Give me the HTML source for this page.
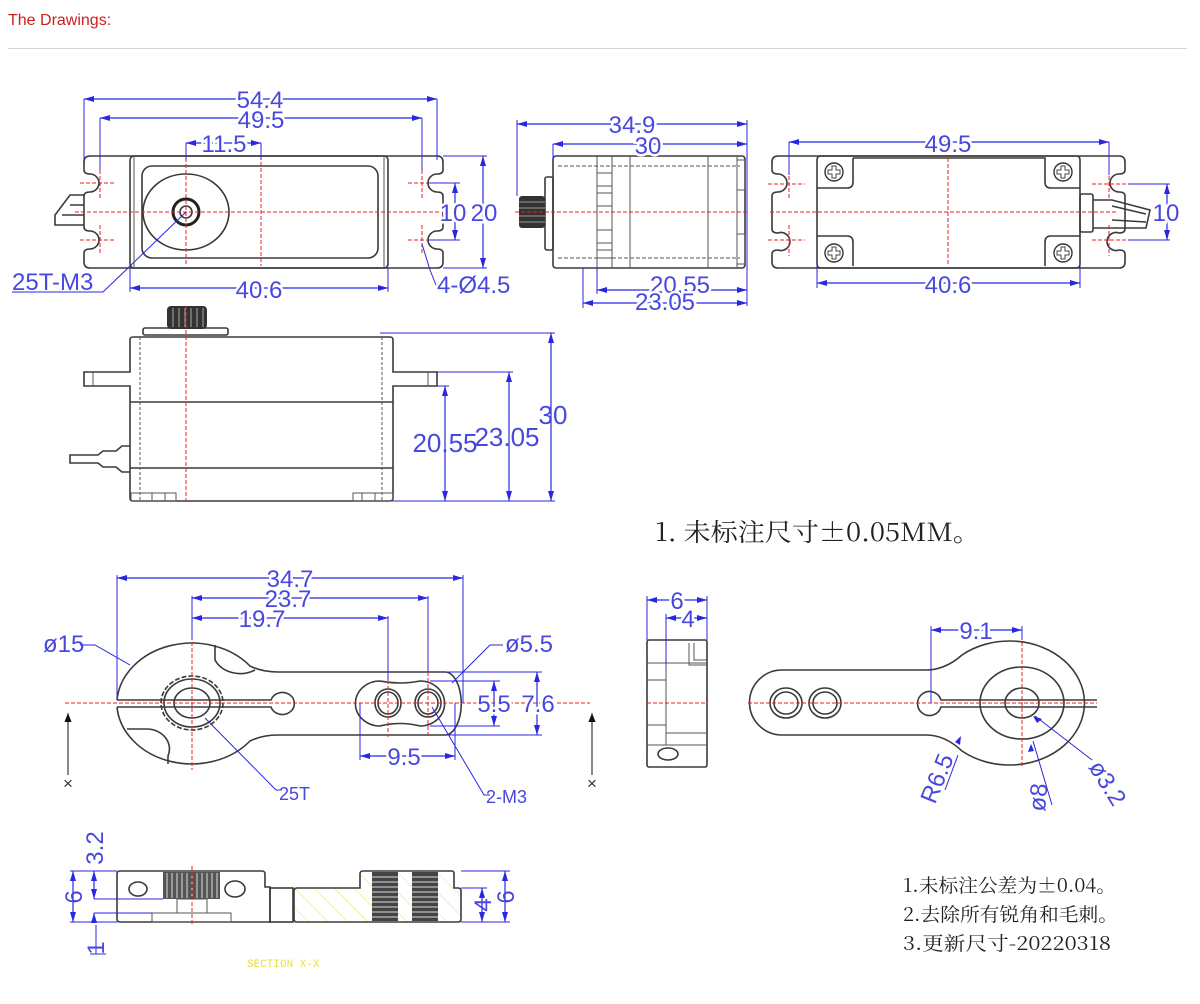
<!DOCTYPE html>
<html><head><meta charset="utf-8"><style>
html,body{margin:0;padding:0;background:#fff;width:1200px;height:1004px;overflow:hidden}
svg{display:block}
.o{fill:none;stroke:#3a3a3a;stroke-width:1.6}
.t{fill:none;stroke:#555;stroke-width:1}
.c{fill:none;stroke:#e82020;stroke-width:1;stroke-dasharray:4 2}
.d{fill:none;stroke:#2828e0;stroke-width:1.2}
.dt{font-family:"Liberation Sans",sans-serif;font-size:24px;fill:#4848e0;paint-order:stroke;stroke:#fff;stroke-width:5px}
.ld{fill:none;stroke:#2828e0;stroke-width:1}
</style></head><body>
<svg width="1200" height="1004" viewBox="0 0 1200 1004" xmlns="http://www.w3.org/2000/svg">
<defs>
<marker id="a" viewBox="0 0 10 6" refX="10" refY="3" markerWidth="10" markerHeight="6" orient="auto-start-reverse" markerUnits="userSpaceOnUse"><path d="M0,0L10,3L0,6z" fill="#2828e0"/></marker>
<marker id="k" viewBox="0 0 10 8" refX="10" refY="4" markerWidth="9" markerHeight="14" orient="auto" markerUnits="userSpaceOnUse"><path d="M0,0L10,4L0,8z" fill="#111"/></marker>
<pattern id="h" width="14" height="14" patternUnits="userSpaceOnUse" patternTransform="rotate(-45)"><line x1="0" y1="0" x2="0" y2="14" stroke="#e8e060" stroke-width="1"/></pattern>
</defs>
<text x="8" y="25" font-family="Liberation Sans,sans-serif" font-size="16" fill="#cc1f1f">The Drawings:</text>
<line x1="8" y1="48.5" x2="1187" y2="48.5" stroke="#d4d4d4" stroke-width="1"/>

<!-- ===== View A top-left ===== -->
<g>
<path class="o" d="M90,156 H437 Q443,156 443,162 V170 Q443,174 437,174 A9,9 0 1 0 437,192 Q443,192 443,196 V227 Q443,231 437,231 A9,9 0 1 0 437,249 Q443,249 443,253 V262 Q443,268 437,268 H90 Q84,268 84,262 V253 Q84,249 90,249 A9,9 0 1 0 90,231 Q84,231 84,227 V196 Q84,192 90,192 A9,9 0 1 0 90,174 Q84,174 84,170 V162 Q84,156 90,156 Z"/>
<rect class="o" x="130" y="156" width="258" height="112" rx="4"/>
<line class="t" x1="134" y1="156" x2="134" y2="268"/><line class="t" x1="384" y1="156" x2="384" y2="268"/>
<rect class="o" x="142" y="166" width="236" height="92" rx="10"/>
<ellipse class="o" cx="186" cy="212" rx="43" ry="38"/>
<circle cx="186" cy="212" r="13" fill="none" stroke="#222" stroke-width="3"/>
<circle class="o" cx="186" cy="212" r="6"/>
<path class="o" d="M84,195 H70 L55,215 V225 H84 M70,205 H84 M62,215 H84"/>
<g class="c"><line x1="75" y1="212" x2="447" y2="212"/><line x1="186" y1="158" x2="186" y2="266"/><line x1="261" y1="150" x2="261" y2="266"/>
<line x1="100" y1="170" x2="100" y2="200"/><line x1="80" y1="183" x2="115" y2="183"/><line x1="100" y1="225" x2="100" y2="255"/><line x1="80" y1="240" x2="115" y2="240"/>
<line x1="422" y1="170" x2="422" y2="200"/><line x1="408" y1="183" x2="445" y2="183"/><line x1="422" y1="225" x2="422" y2="255"/><line x1="408" y1="240" x2="445" y2="240"/></g>
<g class="ld"><line x1="84" y1="99" x2="84" y2="160"/><line x1="437" y1="99" x2="437" y2="160"/><line x1="100" y1="118" x2="100" y2="170"/><line x1="422" y1="118" x2="422" y2="170"/>
<line x1="186" y1="143" x2="186" y2="160"/><line x1="261" y1="143" x2="261" y2="160"/>
<line x1="130" y1="268" x2="130" y2="292"/><line x1="388" y1="268" x2="388" y2="292"/>
<line x1="443" y1="156" x2="487" y2="156"/><line x1="443" y1="268" x2="487" y2="268"/><line x1="428" y1="183" x2="460" y2="183"/><line x1="428" y1="240" x2="460" y2="240"/>
<polyline points="186,212 128,268 103,292 12,292"/><polyline points="422,244 430,270 436,285"/></g>
<g class="d" marker-start="url(#a)" marker-end="url(#a)"><line x1="84" y1="99" x2="437" y2="99"/><line x1="100" y1="118" x2="422" y2="118"/><line x1="186" y1="143" x2="261" y2="143"/><line x1="130" y1="288" x2="388" y2="288"/><line x1="483" y1="156" x2="483" y2="268"/><line x1="455" y1="183" x2="455" y2="240"/></g>
<text class="dt" x="260" y="108" text-anchor="middle">54.4</text>
<text class="dt" x="261" y="128" text-anchor="middle">49.5</text>
<text class="dt" x="224" y="152" text-anchor="middle">11.5</text>
<text class="dt" x="259" y="298" text-anchor="middle">40.6</text>
<text class="dt" x="453" y="221" text-anchor="middle">10</text>
<text class="dt" x="484" y="221" text-anchor="middle">20</text>
<text class="dt" x="12" y="290" style="stroke-width:0">25T-M3</text>
<text class="dt" x="437" y="293" style="stroke-width:0">4-Ø4.5</text>
</g>

<!-- ===== View B side ===== -->
<g>
<rect class="o" x="553" y="156" width="192" height="112" rx="3"/>
<rect class="o" x="545" y="177" width="8" height="73" rx="2"/>
<rect x="519" y="196" width="26" height="32" rx="3" fill="#333"/>
<g stroke="#999" stroke-width="1"><line x1="519" y1="202" x2="545" y2="202"/><line x1="519" y1="208" x2="545" y2="208"/><line x1="519" y1="216" x2="545" y2="216"/><line x1="519" y1="222" x2="545" y2="222"/></g>
<g class="t"><line x1="597" y1="156" x2="597" y2="268"/><line x1="612" y1="156" x2="612" y2="268"/><line x1="630" y1="156" x2="630" y2="268"/><line x1="708" y1="156" x2="708" y2="268"/><line x1="737" y1="156" x2="737" y2="268"/>
<line x1="558" y1="166" x2="740" y2="166" stroke-dasharray="4 2"/><line x1="558" y1="258" x2="740" y2="258" stroke-dasharray="4 2"/>
<rect x="597" y="173" width="15" height="13"/><rect x="597" y="193" width="15" height="13"/><rect x="597" y="230" width="15" height="13"/><rect x="597" y="250" width="15" height="8"/>
<rect x="737" y="160" width="8" height="30"/><rect x="737" y="234" width="8" height="30"/></g>
<line class="c" x1="515" y1="212" x2="747" y2="212"/>
<g class="ld"><line x1="517" y1="120" x2="517" y2="196"/><line x1="553" y1="144" x2="553" y2="160"/><line x1="747" y1="120" x2="747" y2="306"/><line x1="597" y1="268" x2="597" y2="294"/><line x1="583" y1="268" x2="583" y2="308"/></g>
<g class="d" marker-start="url(#a)" marker-end="url(#a)"><line x1="517" y1="124" x2="747" y2="124"/><line x1="553" y1="144" x2="747" y2="144"/><line x1="597" y1="290" x2="747" y2="290"/><line x1="583" y1="303" x2="747" y2="303"/></g>
<text class="dt" x="632" y="133" text-anchor="middle">34.9</text>
<text class="dt" x="648" y="154" text-anchor="middle">30</text>
<text class="dt" x="680" y="293" text-anchor="middle">20.55</text>
<text class="dt" x="665" y="310" text-anchor="middle">23.05</text>
</g>

<!-- ===== View C right top ===== -->
<g>
<path class="o" d="M778,156 H1119 Q1125,156 1125,162 V170 Q1125,174 1119,174 A9,9 0 1 0 1119,192 Q1125,192 1125,196 V229 Q1125,233 1119,233 A9,9 0 1 0 1119,250 Q1125,250 1125,254 V262 Q1125,268 1119,268 H778 Q772,268 772,262 V254 Q772,250 778,250 A9,9 0 1 0 778,233 Q772,233 772,229 V196 Q772,192 778,192 A9,9 0 1 0 778,174 Q772,174 772,170 V162 Q772,156 778,156 Z"/>
<path class="o" d="M821,156 H1076 Q1080,156 1080,160 V264 Q1080,268 1076,268 H821 Q817,268 817,264 V160 Q817,156 821,156 Z"/>
<path class="o" d="M853,158 H1045 V182 Q1045,188 1051,188 H1080 M1080,236 H1051 Q1045,236 1045,242 V266 M853,266 V242 Q853,236 847,236 H817 M817,188 H847 Q853,188 853,182 V158"/>
<g fill="none" stroke="#333" stroke-width="1.4"><circle cx="834" cy="172" r="9"/><circle cx="1063" cy="172" r="9"/><circle cx="834" cy="253" r="9"/><circle cx="1063" cy="253" r="9"/></g>
<g fill="none" stroke="#444" stroke-width="1"><path d="M832,166h4v4h4v4h-4v4h-4v-4h-4v-4h4z"/><path d="M1061,166h4v4h4v4h-4v4h-4v-4h-4v-4h4z"/><path d="M832,247h4v4h4v4h-4v4h-4v-4h-4v-4h4z"/><path d="M1061,247h4v4h4v4h-4v4h-4v-4h-4v-4h4z"/></g>
<rect class="o" x="1080" y="194" width="13" height="38" rx="2"/>
<path class="o" d="M1093,200 H1112 L1150,210 L1146,228 H1093 M1112,206 L1146,214 M1112,220 L1146,222"/>
<g class="c"><line x1="770" y1="212" x2="1118" y2="212"/><line x1="948" y1="158" x2="948" y2="266"/>
<line x1="789" y1="170" x2="789" y2="200"/><line x1="768" y1="184" x2="805" y2="184"/><line x1="789" y1="225" x2="789" y2="256"/><line x1="768" y1="240" x2="805" y2="240"/>
<line x1="1109" y1="170" x2="1109" y2="200"/><line x1="1092" y1="184" x2="1128" y2="184"/><line x1="1109" y1="225" x2="1109" y2="256"/><line x1="1092" y1="240" x2="1128" y2="240"/></g>
<g class="ld"><line x1="789" y1="142" x2="789" y2="175"/><line x1="1109" y1="142" x2="1109" y2="175"/><line x1="817" y1="264" x2="817" y2="288"/><line x1="1080" y1="264" x2="1080" y2="288"/><line x1="1128" y1="184" x2="1170" y2="184"/><line x1="1128" y1="240" x2="1170" y2="240"/></g>
<g class="d" marker-start="url(#a)" marker-end="url(#a)"><line x1="789" y1="142" x2="1109" y2="142"/><line x1="817" y1="283" x2="1080" y2="283"/><line x1="1167" y1="184" x2="1167" y2="240"/></g>
<text class="dt" x="948" y="152" text-anchor="middle">49.5</text>
<text class="dt" x="948" y="293" text-anchor="middle">40.6</text>
<text class="dt" x="1166" y="221" text-anchor="middle">10</text>
</g>

<!-- ===== View D elevation ===== -->
<g>
<rect class="o" x="143" y="328" width="85" height="7" rx="2"/>
<rect x="167" y="306" width="40" height="23" rx="4" fill="#333"/>
<g stroke="#aaa" stroke-width="1"><line x1="173" y1="308" x2="173" y2="327"/><line x1="179" y1="308" x2="179" y2="327"/><line x1="185" y1="308" x2="185" y2="327"/><line x1="191" y1="308" x2="191" y2="327"/><line x1="197" y1="308" x2="197" y2="327"/><line x1="203" y1="308" x2="203" y2="327"/></g>
<path class="o" d="M133,337 H390 Q393,337 393,340 V372 H437 V386 H393 V498 Q393,501 390,501 H133 Q130,501 130,498 V386 H84 V372 H130 V340 Q130,337 133,337 Z"/>
<line class="o" x1="130" y1="402" x2="393" y2="402"/><line class="o" x1="130" y1="468" x2="393" y2="468"/>
<line class="t" x1="428" y1="372" x2="428" y2="386"/><line class="t" x1="93" y1="372" x2="93" y2="386"/>
<line class="t" x1="140" y1="337" x2="140" y2="501" stroke-dasharray="3 2"/><line class="t" x1="382" y1="337" x2="382" y2="501" stroke-dasharray="3 2"/>
<g class="t"><rect x="131" y="493" width="45" height="8"/><line x1="152" y1="493" x2="152" y2="501"/><line x1="165" y1="493" x2="165" y2="501"/><rect x="353" y="493" width="40" height="8"/><line x1="362" y1="493" x2="362" y2="501"/><line x1="375" y1="493" x2="375" y2="501"/></g>
<path class="o" d="M130,446 H122 L116,451 H103 L98,455 H70 V463 H98 L103,467 H116 L122,472 H130"/>
<line class="c" x1="186" y1="306" x2="186" y2="503"/>
<g class="ld"><line x1="380" y1="333" x2="555" y2="333"/><line x1="437" y1="372" x2="513" y2="372"/><line x1="437" y1="386" x2="449" y2="386"/><line x1="393" y1="501" x2="555" y2="501"/></g>
<g class="d" marker-start="url(#a)" marker-end="url(#a)"><line x1="551" y1="333" x2="551" y2="501"/><line x1="509" y1="372" x2="509" y2="501"/><line x1="445" y1="386" x2="445" y2="501"/></g>
<text class="dt" x="445" y="452" text-anchor="middle" style="font-size:26px;stroke-width:0">20.55</text>
<text class="dt" x="507" y="446" text-anchor="middle" style="font-size:26px;stroke-width:0">23.05</text>
<text class="dt" x="553" y="424" text-anchor="middle" style="font-size:26px;stroke-width:0">30</text>
</g>

<text x="655" y="541" font-family="'Noto Serif CJK SC',serif" font-size="25" fill="#222" textLength="325" lengthAdjust="spacingAndGlyphs">1.  未标注尺寸±0.05MM。</text>

<!-- ===== View E horn top ===== -->
<g>
<path class="o" d="M117,700 A75,62 0 0 1 250,666 Q262,672 278,672 H445 A16,31 0 0 1 445,735 H278 Q262,735 250,741 A75,62 0 0 1 117,707"/>
<path class="o" d="M117,700 H271 A12,11 0 1 1 271,707 H117"/>
<path class="o" d="M215,645 V660 A28,24 0 0 0 255,670"/><path class="o" d="M127,729 H148 A23,20 0 0 1 168,756 V764"/>
<ellipse class="o" cx="192" cy="703" rx="31" ry="27" stroke-dasharray="5 2"/>
<ellipse class="o" cx="192" cy="703" rx="28" ry="24"/>
<ellipse class="o" cx="192" cy="703" rx="18" ry="15"/>
<path class="o" d="M380,681 Q400,685 420,681 A24,22 0 1 1 420,726 Q400,721 380,726 A24,22 0 1 1 380,681 Z"/>
<ellipse class="o" cx="388" cy="703" rx="13" ry="14"/><ellipse class="o" cx="388" cy="703" rx="10" ry="11"/>
<ellipse class="o" cx="428" cy="703" rx="13" ry="14"/><ellipse class="o" cx="428" cy="703" rx="10" ry="11"/>
<g class="c"><line x1="65" y1="703" x2="590" y2="703"/><line x1="192" y1="636" x2="192" y2="770"/><line x1="388" y1="680" x2="388" y2="737"/><line x1="428" y1="672" x2="428" y2="737"/></g>
<g class="ld"><line x1="117" y1="575" x2="117" y2="700"/><line x1="463" y1="575" x2="463" y2="703"/><line x1="192" y1="596" x2="192" y2="640"/><line x1="428" y1="596" x2="428" y2="672"/><line x1="388" y1="616" x2="388" y2="680"/>
<line x1="360" y1="703" x2="360" y2="760"/><line x1="455" y1="703" x2="455" y2="760"/>
<line x1="430" y1="681" x2="500" y2="681"/><line x1="430" y1="726" x2="500" y2="726"/><line x1="445" y1="672" x2="542" y2="672"/><line x1="445" y1="735" x2="542" y2="735"/>
<polyline points="80,645 95,645 130,665"/><polyline points="503,645 490,645 452,683"/><polyline points="205,718 276,790 282,790"/><polyline points="432,707 484,795 490,795"/></g>
<g class="d" marker-start="url(#a)" marker-end="url(#a)"><line x1="117" y1="578" x2="463" y2="578"/><line x1="192" y1="598" x2="428" y2="598"/><line x1="192" y1="618" x2="388" y2="618"/><line x1="360" y1="756" x2="455" y2="756"/><line x1="494" y1="681" x2="494" y2="726"/><line x1="537" y1="672" x2="537" y2="735"/></g>
<text class="dt" x="290" y="587" text-anchor="middle">34.7</text>
<text class="dt" x="288" y="607" text-anchor="middle">23.7</text>
<text class="dt" x="262" y="627" text-anchor="middle">19.7</text>
<text class="dt" x="404" y="765" text-anchor="middle">9.5</text>
<text class="dt" x="494" y="712" text-anchor="middle">5.5</text>
<text class="dt" x="538" y="712" text-anchor="middle">7.6</text>
<text class="dt" x="43" y="652" style="stroke-width:0">ø15</text>
<text class="dt" x="505" y="652" style="stroke-width:0">ø5.5</text>
<text class="dt" x="279" y="800" style="stroke-width:0;font-size:18px">25T</text>
<text class="dt" x="486" y="803" style="stroke-width:0;font-size:18px">2-M3</text>
<line x1="68" y1="775" x2="68" y2="713" stroke="#111" marker-end="url(#k)"/>
<text x="68" y="789" font-family="Liberation Sans,sans-serif" font-size="17" fill="#333" text-anchor="middle">×</text>
<line x1="592" y1="775" x2="592" y2="713" stroke="#111" marker-end="url(#k)"/>
<text x="592" y="789" font-family="Liberation Sans,sans-serif" font-size="17" fill="#333" text-anchor="middle">×</text>
</g>

<!-- ===== View F horn side ===== -->
<g>
<rect class="o" x="647" y="640" width="60" height="127" rx="2"/>
<g class="t"><line x1="666" y1="665" x2="666" y2="745"/><polyline points="689,643 689,665 707,665"/><polyline points="694,643 694,660 707,660"/>
<line x1="647" y1="663" x2="707" y2="663"/><line x1="647" y1="680" x2="666" y2="680"/><line x1="647" y1="725" x2="666" y2="725"/><line x1="647" y1="745" x2="707" y2="745"/><line x1="666" y1="733" x2="707" y2="733"/></g>
<ellipse class="o" cx="668" cy="754" rx="10" ry="6"/>
<line class="c" x1="647" y1="703" x2="707" y2="703"/>
<g class="ld"><line x1="647" y1="596" x2="647" y2="640"/><line x1="707" y1="596" x2="707" y2="640"/><line x1="666" y1="614" x2="666" y2="665"/></g>
<g class="d" marker-start="url(#a)" marker-end="url(#a)"><line x1="647" y1="600" x2="707" y2="600"/><line x1="666" y1="618" x2="707" y2="618"/></g>
<text class="dt" x="677" y="609" text-anchor="middle">6</text>
<text class="dt" x="688" y="627" text-anchor="middle">4</text>
</g>

<!-- ===== View G horn bottom ===== -->
<g>
<path class="o" d="M782,670 H926 Q945,670 962,655 A75,62 0 1 1 962,751 Q945,735 926,735 H782 A32,32 0 0 1 782,670 Z"/>
<path class="o" d="M1097,700 H941 A12,12 0 1 0 941,707 H1097"/>
<ellipse class="o" cx="1022" cy="703" rx="42" ry="36"/>
<ellipse class="o" cx="1022" cy="703" rx="17" ry="15"/>
<ellipse class="o" cx="786" cy="703" rx="16" ry="15"/><ellipse class="o" cx="786" cy="703" rx="12" ry="11"/>
<ellipse class="o" cx="825" cy="703" rx="16" ry="15"/><ellipse class="o" cx="825" cy="703" rx="12" ry="11"/>
<g class="c"><line x1="748" y1="703" x2="1097" y2="703"/><line x1="1022" y1="636" x2="1022" y2="767"/></g>
<g class="ld"><line x1="931" y1="626" x2="931" y2="703"/><line x1="1022" y1="626" x2="1022" y2="640"/>
<line x1="958" y1="755" x2="945" y2="790"/><line x1="1033" y1="741" x2="1052" y2="805"/><line x1="1035" y1="716" x2="1092" y2="760"/></g>
<g class="d" marker-start="url(#a)" marker-end="url(#a)"><line x1="931" y1="630" x2="1022" y2="630"/></g>
<g fill="#2828e0"><path d="M955,742l6,-6l-1,9z"/><path d="M1031,744l-3,8l6,-1z"/><path d="M1033,716l9,3l-5,4z"/></g>
<text class="dt" x="976" y="639" text-anchor="middle">9.1</text>
<text class="dt" transform="translate(935,805) rotate(-68)" style="stroke-width:0">R6.5</text>
<text class="dt" transform="translate(1045,812) rotate(-85)" style="stroke-width:0">ø8</text>
<text class="dt" transform="translate(1088,767) rotate(58)" style="stroke-width:0">ø3.2</text>
</g>

<!-- ===== View H section ===== -->
<g>
<path class="o" d="M120,871 H262 Q265,871 265,874 V887 H270 V922 H120 Q117,922 117,919 V874 Q117,871 120,871 Z"/>
<rect x="163" y="872" width="57" height="27" fill="#555"/>
<g stroke="#ddd" stroke-width="1"><line x1="167" y1="873" x2="167" y2="898"/><line x1="172" y1="873" x2="172" y2="898"/><line x1="177" y1="873" x2="177" y2="898"/><line x1="182" y1="873" x2="182" y2="898"/><line x1="187" y1="873" x2="187" y2="898"/><line x1="192" y1="873" x2="192" y2="898"/><line x1="197" y1="873" x2="197" y2="898"/><line x1="202" y1="873" x2="202" y2="898"/><line x1="207" y1="873" x2="207" y2="898"/><line x1="212" y1="873" x2="212" y2="898"/><line x1="217" y1="873" x2="217" y2="898"/></g>
<g class="t"><rect x="177" y="899" width="30" height="14"/><rect x="152" y="913" width="79" height="9"/></g>
<ellipse class="o" cx="138" cy="889" rx="9" ry="7"/><ellipse class="o" cx="235" cy="889" rx="10" ry="8"/>
<rect class="o" x="270" y="888" width="23" height="34"/>
<path d="M297,888 H360 V874 Q360,871 363,871 H452 Q454,871 454,874 V888 H458 Q461,888 461,891 V919 Q461,922 458,922 H297 Q294,922 294,919 V891 Q294,888 297,888 Z" fill="url(#h)" stroke="#3a3a3a" stroke-width="1.6"/>
<g fill="#444"><rect x="372" y="872" width="26" height="49"/><rect x="412" y="872" width="26" height="49"/></g>
<g stroke="#ddd" stroke-width="1"><line x1="372" y1="877" x2="398" y2="877"/><line x1="372" y1="882" x2="398" y2="882"/><line x1="372" y1="887" x2="398" y2="887"/><line x1="372" y1="892" x2="398" y2="892"/><line x1="372" y1="897" x2="398" y2="897"/><line x1="372" y1="902" x2="398" y2="902"/><line x1="372" y1="907" x2="398" y2="907"/><line x1="372" y1="912" x2="398" y2="912"/><line x1="372" y1="917" x2="398" y2="917"/>
<line x1="412" y1="877" x2="438" y2="877"/><line x1="412" y1="882" x2="438" y2="882"/><line x1="412" y1="887" x2="438" y2="887"/><line x1="412" y1="892" x2="438" y2="892"/><line x1="412" y1="897" x2="438" y2="897"/><line x1="412" y1="902" x2="438" y2="902"/><line x1="412" y1="907" x2="438" y2="907"/><line x1="412" y1="912" x2="438" y2="912"/><line x1="412" y1="917" x2="438" y2="917"/></g>
<line class="c" x1="192" y1="866" x2="192" y2="926"/>
<g class="ld"><line x1="70" y1="871" x2="117" y2="871"/><line x1="70" y1="922" x2="117" y2="922"/><line x1="94" y1="899" x2="163" y2="899"/><line x1="94" y1="913" x2="152" y2="913"/>
<line x1="461" y1="871" x2="510" y2="871"/><line x1="461" y1="888" x2="487" y2="888"/><line x1="461" y1="922" x2="510" y2="922"/>
<line x1="96" y1="925" x2="96" y2="954"/><line x1="90" y1="954" x2="106" y2="954"/></g>
<g class="d" marker-start="url(#a)" marker-end="url(#a)"><line x1="73" y1="871" x2="73" y2="922"/><line x1="94" y1="871" x2="94" y2="899"/><line x1="482" y1="888" x2="482" y2="922"/><line x1="505" y1="871" x2="505" y2="922"/></g>
<line class="d" x1="94" y1="913" x2="94" y2="922" marker-start="url(#a)"/>
<text class="dt" transform="translate(82,897) rotate(-90)" text-anchor="middle" style="stroke-width:0">6</text>
<text class="dt" transform="translate(103,848) rotate(-90)" text-anchor="middle" style="stroke-width:0">3.2</text>
<text class="dt" transform="translate(104,948) rotate(-90)" text-anchor="middle" style="stroke-width:0">1</text>
<text class="dt" transform="translate(491,905) rotate(-90)" text-anchor="middle" style="stroke-width:0">4</text>
<text class="dt" transform="translate(514,897) rotate(-90)" text-anchor="middle" style="stroke-width:0">6</text>
<text x="247" y="967" font-family="Liberation Mono,monospace" font-size="11" fill="#e6e040">SECTION X-X</text>
</g>

<g font-family="'Noto Serif CJK SC',serif" font-size="19" fill="#222">
<text x="903" y="892" textLength="213" lengthAdjust="spacingAndGlyphs">1.未标注公差为±0.04。</text>
<text x="903" y="921" textLength="215" lengthAdjust="spacingAndGlyphs">2.去除所有锐角和毛刺。</text>
<text x="903" y="950" textLength="208" lengthAdjust="spacingAndGlyphs">3.更新尺寸-20220318</text>
</g>
</svg>
</body></html>
